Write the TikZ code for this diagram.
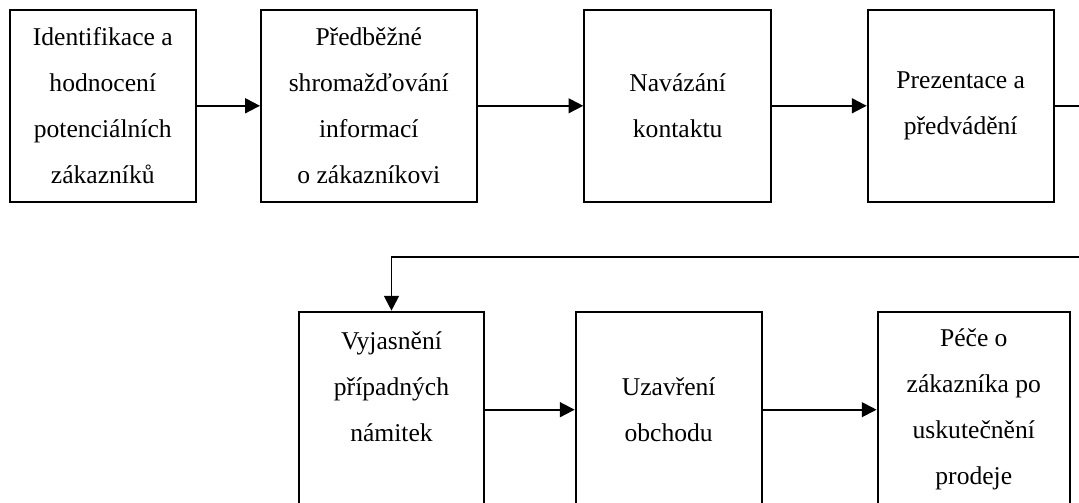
\documentclass[tikz,border=0pt]{standalone}
\usepackage{fontspec}
\setmainfont{Liberation Serif}
\usetikzlibrary{arrows.meta,positioning,calc}

\begin{document}
\begin{tikzpicture}[x=0.025cm, y=-0.025cm,
  stage/.style={draw, line width=1.4pt, align=center, inner sep=0pt,
    minimum height=4.79cm, font=\fontsize{18.2}{32.7}\selectfont},
  flow/.style={line width=1.4pt, -{Triangle[length=10.5pt, width=10.5pt]}}]
\useasboundingbox (0,0) rectangle (1079,503);

% Top row
\node[stage, minimum width=4.64cm] (ident) at (102.8,105.8) {Identifikace a\\hodnocení\\potenciálních\\zákazníků};
\node[stage, minimum width=5.39cm] (info) at (368.8,105.8) {Předběžné\\shromažďování\\informací\\o zákazníkovi};
\node[stage, minimum width=4.67cm] (kontakt) at (677.7,105.8) {Navázání\\kontaktu};
\node[stage, minimum width=4.65cm] (prez) at (960.7,105.8) {Prezentace a\\předvádění};

% Bottom row
\node[stage, minimum width=4.64cm, minimum height=4.9cm] (namitky) at (391.5,409.7) {Vyjasnění\\případných\\námitek\\ };
\node[stage, minimum width=4.65cm, minimum height=4.9cm] (uzavreni) at (668.7,409.7) {Uzavření\\obchodu};
\node[stage, minimum width=4.81cm, minimum height=4.9cm] (pece) at (973.8,409.7) {Péče o\\zákazníka po\\uskutečnění\\prodeje};

% Return line (leaves the frame on the right)
\coordinate (outA) at (1079,105.8);
\coordinate (outB) at (1079,257);

% Arrows
\draw[flow] (ident) -- (info);
\draw[flow] (info) -- (kontakt);
\draw[flow] (kontakt) -- (prez);
\draw[line width=1.4pt] (prez.east) -- (outA);
\draw[flow] (outB) -| (namitky.north);
\draw[flow] (namitky) -- (uzavreni);
\draw[flow] (uzavreni) -- (pece);
\end{tikzpicture}
\end{document}
